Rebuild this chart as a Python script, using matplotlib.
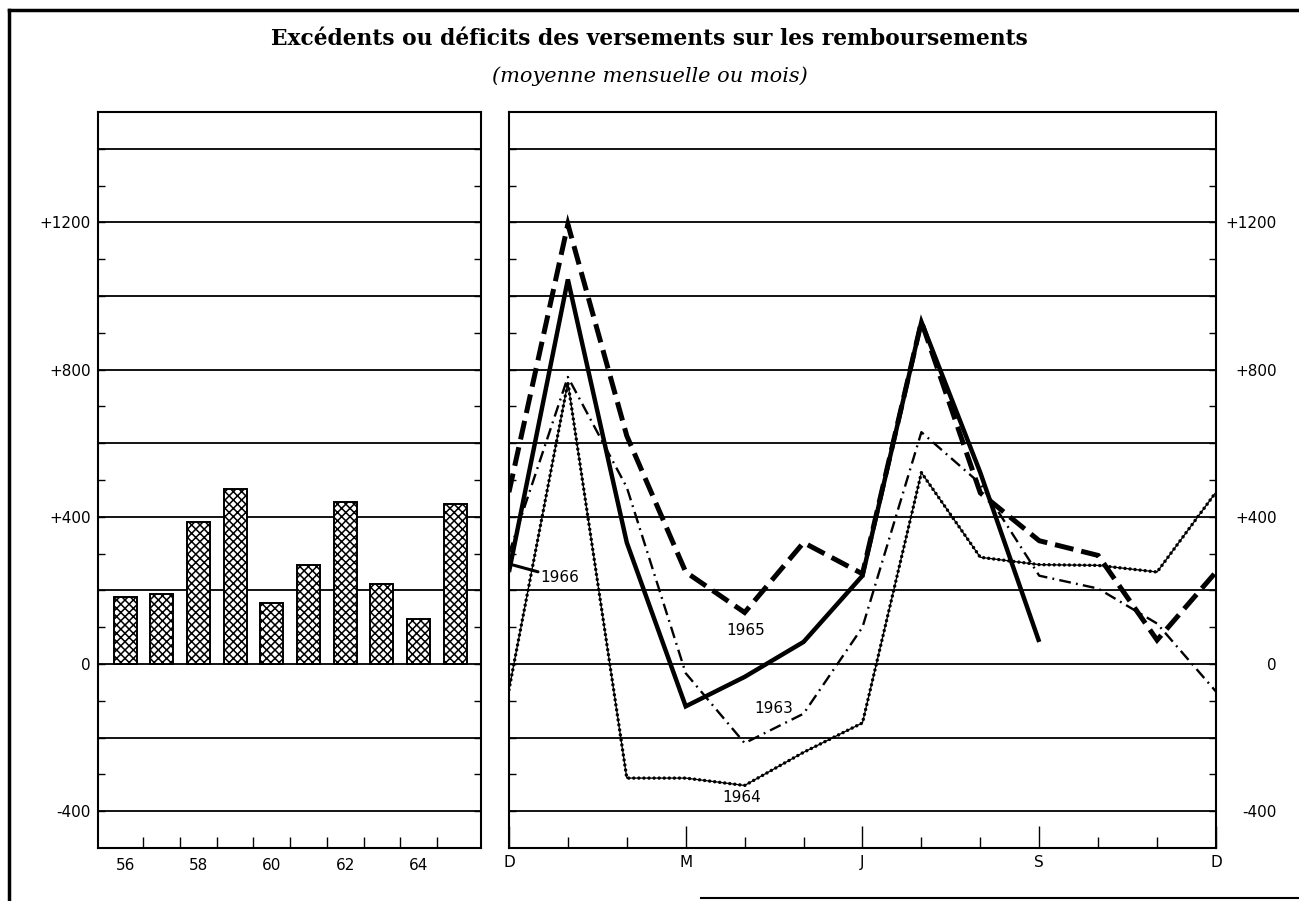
import numpy as np
import matplotlib.pyplot as plt
import matplotlib.lines as mlines

# === Data ===
years = [56, 57, 58, 59, 60, 61, 62, 63, 64, 65]
yearly_avg = [181, 190, 385, 475, 166, 269, 441, 217, 121, 434]

month_labels = ["D", "J", "F", "M", "A", "M", "J", "J", "A", "S", "O", "N", "D"]
y1963 = [300, 780, 480, -25, -215, -135, 100, 630, 490, 240, 205, 110, -75]
y1964 = [-70, 765, -310, -310, -330, -240, -160, 520, 290, 270, 268, 250, 467]
y1965 = [467, 1195, 620, 250, 140, 330, 245, 930, 465, 335, 295, 65, 250]
y1966 = [250, 1045, 330, -115, -35, 60, 240, 930, 520, 60, np.nan, np.nan, np.nan]

major_levels = [-400, 0, 400, 800, 1200]
major_text = ["-400", "0", "+400", "+800", "+1200"]
grid_levels = np.arange(-400, 1401, 200)
minor_levels = np.arange(-400, 1401, 100)

tick_font = dict(family="DejaVu Sans", size=11)

fig = plt.figure(figsize=(12.99, 9.01), dpi=100)
ax1 = fig.add_axes([0.0754, 0.0588, 0.2948, 0.8169])
ax2 = fig.add_axes([0.3918, 0.0588, 0.5443, 0.8169])


def style_axes(ax):
    ax.set_ylim(-500, 1500)
    for sp in ax.spines.values():
        sp.set_linewidth(1.5)
    ax.hlines(grid_levels, *ax.get_xlim(), colors="black", linewidth=1.3, zorder=1)
    ax.set_yticks(major_levels)
    ax.set_yticks(minor_levels, minor=True)
    ax.tick_params(axis="y", which="both", direction="in", left=True, right=True,
                   length=5, width=1.0)
    ax.tick_params(axis="x", which="both", direction="in", top=False, width=1.0)


# --- Left: yearly averages ---
ax1.set_xlim(years[0] - 0.74, years[-1] + 0.7)
style_axes(ax1)
ax1.set_yticklabels(major_text, fontdict=tick_font)
ax1.tick_params(axis="y", which="major", pad=5)
plt.rcParams["hatch.linewidth"] = 1.1
ax1.bar(years, yearly_avg, width=0.63, color="white", edgecolor="black",
        linewidth=1.4, hatch="xxxx", zorder=3)
ax1.set_xticks(years[::2])
ax1.set_xticklabels([str(y) for y in years[::2]], fontdict=tick_font)
ax1.set_xticks(np.array(years[:-1]) + 0.5, minor=True)
ax1.tick_params(axis="x", which="major", length=0, pad=7)
ax1.tick_params(axis="x", which="minor", length=8)

# --- Right: monthly values ---
x = np.arange(len(month_labels))
ax2.set_xlim(0, 12)
style_axes(ax2)
ax2.tick_params(axis="y", which="both", labelleft=False, labelright=True)
ax2.set_yticklabels(major_text, fontdict=tick_font)
ax2.tick_params(axis="y", which="major", pad=44)
for t in ax2.yaxis.get_major_ticks():
    t.label2.set_horizontalalignment("right")
ax2.set_xticks(x[::3])
ax2.set_xticklabels(month_labels[::3], fontdict=tick_font)
ax2.set_xticks(x, minor=True)
ax2.tick_params(axis="x", which="major", length=16, pad=5)
ax2.tick_params(axis="x", which="minor", length=8)

# 1964: beaded dotted line
ax2.plot(x, y1964, color="black", linewidth=0.9, zorder=4)
ax2.plot(x, y1964, color="black", linewidth=2.5, linestyle=(0, (0.01, 1.45)),
         dash_capstyle="round", zorder=4)
# 1963: thin dash-dot
ax2.plot(x, y1963, color="black", linewidth=1.7, linestyle=(0, (5.0, 2.2, 0.8, 2.2)),
         zorder=5)
# 1965: heavy dashed
ax2.plot(x, y1965, color="black", linewidth=3.6, linestyle=(0, (3.8, 1.6)),
         dash_joinstyle="miter", dash_capstyle="butt", zorder=6)
# 1966: heavy solid
ax2.plot(x, y1966, color="black", linewidth=3.2, solid_joinstyle="miter",
         solid_capstyle="butt", zorder=7)

lbl = dict(family="DejaVu Sans", size=11, zorder=8)
ax2.annotate("1966", xy=(0.07, 269), xytext=(0.54, 234), ha="left", va="center",
             arrowprops=dict(arrowstyle="-", lw=2.2, color="black",
                             shrinkA=0, shrinkB=0), **lbl)
ax2.text(4.02, 92, "1965", ha="center", va="center", **lbl)
ax2.text(4.49, -122, "1963", ha="center", va="center", **lbl)
ax2.text(3.95, -362, "1964", ha="center", va="center", **lbl)

# titles
fig.text(0.5, 0.957, "Excédents ou déficits des versements sur les remboursements",
         ha="center", va="center", family="DejaVu Serif", weight="bold", size=15.7)
fig.text(0.5, 0.916, "(moyenne mensuelle ou mois)", ha="center", va="center",
         family="DejaVu Serif", style="italic", size=15)

# page frame
fig.add_artist(mlines.Line2D([0.007, 1.0], [0.989, 0.989], color="black", linewidth=2.5))
fig.add_artist(mlines.Line2D([0.007, 0.007], [0.0, 0.989], color="black", linewidth=2.5))
fig.add_artist(mlines.Line2D([0.54, 1.0], [0.003, 0.003], color="black", linewidth=1.5))

fig.savefig("out.png", dpi=100)
